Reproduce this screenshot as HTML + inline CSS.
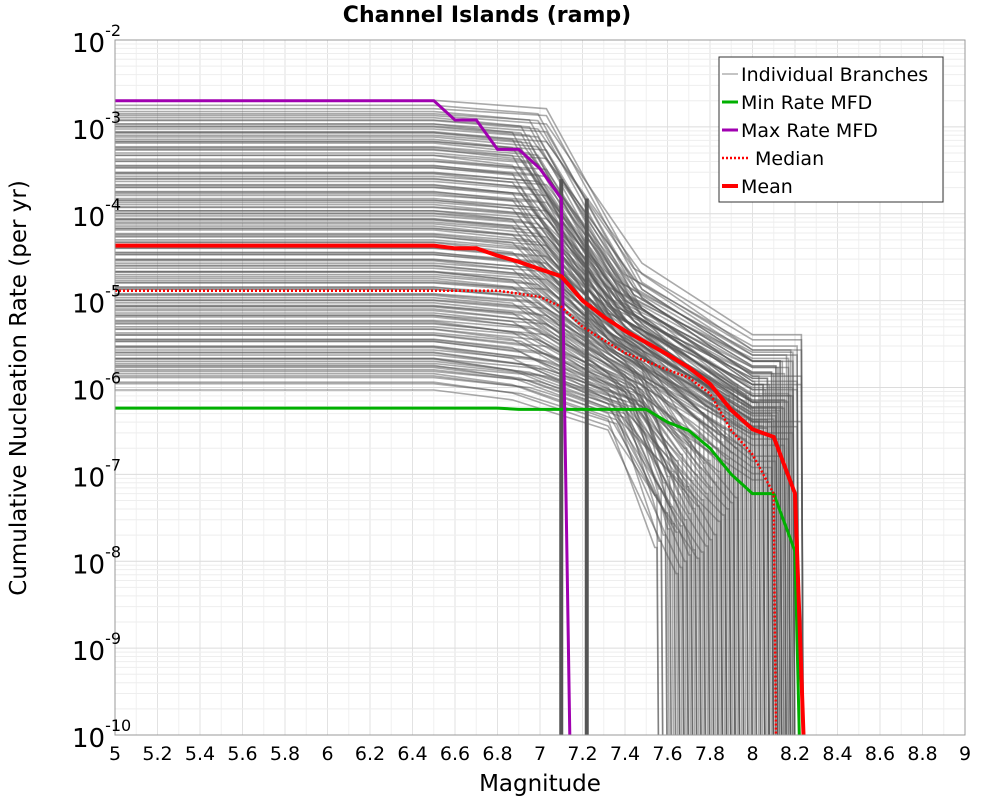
<!DOCTYPE html>
<html><head><meta charset="utf-8"><style>
body{margin:0;background:#fff;font-family:"Liberation Sans","DejaVu Sans",sans-serif;}
</style></head><body>
<svg id="chart" width="1000" height="800" xmlns="http://www.w3.org/2000/svg" font-family="DejaVu Sans, Liberation Sans, sans-serif">
<rect width="1000" height="800" fill="#fff"/>
<text x="487" y="22" text-anchor="middle" font-size="22" font-weight="bold">Channel Islands (ramp)</text>
<g id="grid"></g>
<g id="branches"></g>
<g id="series"></g>
<rect x="115" y="40" width="850" height="695" fill="none" stroke="#999" stroke-width="1"/>
<g id="axes"></g>
<text x="540" y="791" text-anchor="middle" font-size="23">Magnitude</text>
<text transform="translate(26,388) rotate(-90)" text-anchor="middle" font-size="23">Cumulative Nucleation Rate (per yr)</text>
<g>
<rect x="719" y="57" width="224" height="145" fill="#fff" stroke="#333" stroke-width="1"/>
<line x1="722" y1="74" x2="738" y2="74" stroke="#888" stroke-width="1"/>
<text x="741" y="81" font-size="19">Individual Branches</text>
<line x1="722" y1="102" x2="738" y2="102" stroke="#00b000" stroke-width="3"/>
<text x="741" y="109" font-size="19">Min Rate MFD</text>
<line x1="722" y1="130" x2="738" y2="130" stroke="#a000b0" stroke-width="3"/>
<text x="741" y="137" font-size="19">Max Rate MFD</text>
<line x1="722" y1="158" x2="750" y2="158" stroke="#f00" stroke-width="2.5" stroke-dasharray="2,2"/>
<text x="755" y="165" font-size="19">Median</text>
<line x1="722" y1="186" x2="738" y2="186" stroke="#f00" stroke-width="4"/>
<text x="741" y="193" font-size="19">Mean</text>
</g>
</svg>
<script>
const xTicks=[5,5.2,5.4,5.6,5.8,6,6.2,6.4,6.6,6.8,7,7.2,7.4,7.6,7.8,8,8.2,8.4,8.6,8.8,9];
const yExps=[-2,-3,-4,-5,-6,-7,-8,-9,-10];
const maxMags=[5,6.5,6.6,6.7,6.8,6.9,7.0,7.1,7.14];
const maxRates=[2e-3,2e-3,1.2e-3,1.2e-3,5.5e-4,5.5e-4,3.3e-4,1.5e-4,1e-10];
const meanMags=[5,6.5,6.6,6.7,6.8,6.9,7.0,7.1,7.2,7.3,7.4,7.5,7.6,7.7,7.8,7.9,8.0,8.1,8.2,8.24];
const meanRates=[4.3e-5,4.3e-5,4e-5,4e-5,3.3e-5,2.8e-5,2.3e-5,1.9e-5,1.0e-5,6.5e-6,4.5e-6,3.3e-6,2.4e-6,1.7e-6,1.1e-6,5.5e-7,3.3e-7,2.7e-7,6e-8,1e-10];
const medMags=[5,6.8,6.9,7.0,7.1,7.2,7.3,7.4,7.5,7.6,7.7,7.8,7.9,8.0,8.1,8.11];
const medRates=[1.3e-5,1.3e-5,1.2e-5,1.1e-5,8.5e-6,5e-6,3.5e-6,2.5e-6,2e-6,1.6e-6,1.3e-6,8.5e-7,3.2e-7,1.7e-7,6e-8,1e-10];
const minMags=[5,6.8,6.9,7.5,7.6,7.7,7.8,7.9,8.0,8.1,8.2,8.22];
const minRates=[5.8e-7,5.8e-7,5.6e-7,5.6e-7,4e-7,3.2e-7,2e-7,1e-7,6e-8,6e-8,1.3e-8,1e-10];
const branchLevels=[1.5e-3,1.2e-3,1e-3,8e-4,6.5e-4,5e-4,4e-4,3e-4,2.5e-4,2e-4,1.5e-4,1.2e-4,1e-4,8e-5,6.5e-5,5e-5,4e-5,3e-5,2.5e-5,2e-5,1.6e-5,1.2e-5,1e-5,8e-6,6.5e-6,5e-6,4e-6,3e-6,2.5e-6,2e-6,1.6e-6,1.3e-6];
const branchAt70=[1.2e-3,1e-3,8e-4,6.5e-4,5e-4,4e-4,3.2e-4,2.4e-4,2e-4,1.6e-4,1.2e-4,1e-4,8e-5,6.5e-5,5e-5,4e-5,3.2e-5,2.4e-5,2e-5,1.6e-5,1.3e-5,1e-5,8e-6,6e-6,5e-6,4e-6,3e-6,2.2e-6,1.8e-6,1.5e-6,1.2e-6,1e-6];
const branchAt75=[1.2e-5,1e-5,2e-5,8e-6,1.5e-5,6e-6,1e-5,5e-6,8e-6,6e-6,5e-6,4e-6,6e-6,5e-6,4e-6,3.5e-6,3e-6,3e-6,2.5e-6,2e-6,2e-6,1.8e-6,1.5e-6,1.4e-6,1.2e-6,1e-6,9e-7,8e-7,7e-7,6e-7,5e-7,4.5e-7];
const branchAt80=[2e-6,1.5e-6,3e-6,1e-6,2e-6,8e-7,1.5e-6,6e-7,1e-6,8e-7,6e-7,5e-7,8e-7,6e-7,5e-7,4e-7,4e-7,3e-7,3e-7,2e-7,2e-7,1.5e-7,1.2e-7,1e-7,8e-8,6e-8,5e-8,4e-8,3e-8,2e-8,1.5e-8,1e-8];
const branchDrop=[8.2,8.1,8.22,8.0,8.15,7.9,8.1,7.8,8.2,8.05,7.95,8.1,8.2,8.15,8.0,7.9,8.1,8.2,8.0,7.85,7.7,7.9,8.1,7.75,7.6,7.8,7.65,7.9,7.7,7.6,7.8,7.7];
const variantScale=[1,1.18,0.85,1.35,0.72];
const variantShift=[0,0.04,-0.04,0.08,-0.08];
const vertMags=[7.1,7.22];
const vertTops=[2.5e-4,1.5e-4];

const X0=115,X1=965,Y0=40,Y1=735;
const xs=m=>X0+(m-5)/(9-5)*(X1-X0);
const ys=r=>{let l=Math.log10(Math.max(r,1e-11));return Y0+(-2-l)/8*(Y1-Y0);};
const NS="http://www.w3.org/2000/svg";
function mk(tag,attrs,parent){const e=document.createElementNS(NS,tag);for(const k in attrs)e.setAttribute(k,attrs[k]);parent.appendChild(e);return e;}
const grid=document.getElementById('grid');
for(let i=0;i<=40;i++){const m=5+i*0.1;
const l=mk('line',{x1:xs(m),x2:xs(m),y1:Y0,y2:Y1,stroke:i%2?'#f0f0f0':'#e2e2e2','stroke-width':1},grid);

}
for(let e=-10;e<-2;e++){for(let k=1;k<10;k++){const y=ys(k*Math.pow(10,e));
const l=mk('line',{x1:X0,x2:X1,y1:y,y2:y,stroke:k==1?'#dcdcdc':'#eeeeee','stroke-width':1},grid);

}}
const clip=mk('clipPath',{id:'pc'},document.getElementById('chart'));
mk('rect',{x:X0,y:Y0,width:X1-X0,height:Y1-Y0},clip);
const bg=document.getElementById('branches');bg.setAttribute('clip-path','url(#pc)');
function pathD(ms,rs){return ms.map((m,i)=>(i?'L':'M')+xs(m).toFixed(1)+','+ys(rs[i]).toFixed(1)).join('');}
branchLevels.forEach((lv,i)=>{
 variantScale.forEach((sc,j)=>{
  const sh=variantShift[j];
  const d=Math.min(8.24,branchDrop[i]+sh*0.5);
  const ms=[5,6.5,6.95+sh,7.4+sh,Math.min(8.0,d-0.02),d-0.01,d];
  const rs=[lv*sc,lv*sc,branchAt70[i]*sc,branchAt75[i]*sc,branchAt80[i]*sc,branchAt80[i]*sc,1e-11];
  const p=mk('path',{d:pathD(ms,rs),fill:'none',stroke:'#555','stroke-opacity':0.5,'stroke-width':1.6},bg);
  
  
 });
});
vertMags.forEach((m,i)=>{
 const l=mk('line',{x1:xs(m),x2:xs(m),y1:ys(vertTops[i]),y2:Y1,stroke:'#555','stroke-width':4},bg);
 
 
});
const sg=document.getElementById('series');sg.setAttribute('clip-path','url(#pc)');
[[minMags,minRates,'#00b000',3,null,'min-rate-line'],[maxMags,maxRates,'#a000b0',3,null,'max-rate-line'],[medMags,medRates,'#f00',2.5,'2,2','median-line'],[meanMags,meanRates,'#f00',4,null,'mean-line']].forEach(s=>{
 const a={d:pathD(s[0],s[1]),fill:'none',stroke:s[2],'stroke-width':s[3]};if(s[4])a['stroke-dasharray']=s[4];
 const p=mk('path',a,sg);
 
 
});
const ax=document.getElementById('axes');
xTicks.forEach(t=>{
 const tx=mk('text',{x:xs(t),y:760,'text-anchor':'middle','font-size':19},ax);
 tx.textContent=String(t);
 
 
});
yExps.forEach(e=>{
 const y=ys(Math.pow(10,e));
 const tx=mk('text',{x:72,y:y+12,'font-size':26},ax);
 
 
 tx.textContent='10';
 const sp=mk('tspan',{dy:-16,'font-size':16},tx);sp.textContent=String(e);
});
</script>
</body></html>
